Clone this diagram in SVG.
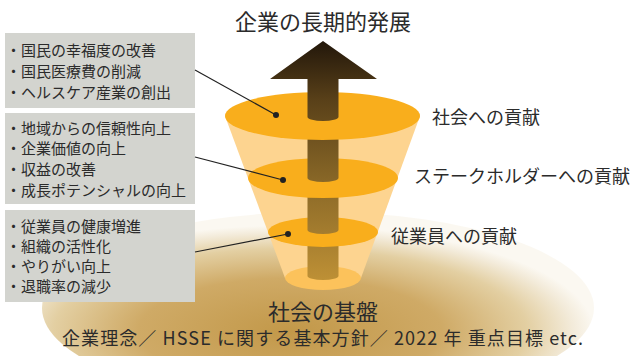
<svg xmlns="http://www.w3.org/2000/svg" width="631" height="356" viewBox="0 0 631 356">
  <style>
    text { font-family: "Noto Sans CJK JP", "Noto Sans", sans-serif; fill: #2b2b2b; }
    .item { font-size: 15px; }
    .label { font-size: 18px; }
    .head { font-size: 22px; }
    .box { fill: #d3d4cf; }
    .disc { fill: #f9ae1c; }
    .shaft { fill: url(#shaftGrad); }
    .leader { stroke: #222; stroke-width: 1.2; fill: none; }
    .dot { fill: #222; }
  </style>
  <defs>
    <radialGradient id="baseGrad" cx="0.45" cy="0.62" r="0.55">
      <stop offset="0" stop-color="#c29849"/>
      <stop offset="0.5" stop-color="#cfaa66"/>
      <stop offset="0.78" stop-color="#e3cfa2"/>
      <stop offset="0.93" stop-color="#f3ebda"/>
      <stop offset="1" stop-color="#fbf8f1"/>
    </radialGradient>
    <linearGradient id="shaftGrad" gradientUnits="userSpaceOnUse" x1="0" y1="40" x2="0" y2="285">
      <stop offset="0" stop-color="#21160a"/>
      <stop offset="0.25" stop-color="#5a4119"/>
      <stop offset="0.6" stop-color="#8c6a28"/>
      <stop offset="1" stop-color="#c09236"/>
    </linearGradient>
  </defs>

  <!-- foundation glow -->
  <g id="foundation">
    <ellipse cx="318" cy="308" rx="276" ry="96" fill="url(#baseGrad)"/>
  </g>

  <!-- funnel with discs and rising arrow -->
  <g id="funnel">
    <polygon points="225,116 420,116 361,278 285,278" fill="#fdd490"/>
    <ellipse cx="323" cy="278" rx="38" ry="12" fill="#fcc25b"/>
    <path class="shaft" d="M307.5,232 V276 A15.5,4 0 0 0 338.5,276 V232 Z"/>
    <ellipse class="disc" cx="323" cy="232" rx="55" ry="15"/>
    <path class="shaft" d="M307.5,178 V230 A15.5,4 0 0 0 338.5,230 V178 Z"/>
    <ellipse class="disc" cx="323" cy="178" rx="75" ry="20"/>
    <path class="shaft" d="M307.5,116 V178 A15.5,4 0 0 0 338.5,178 V116 Z"/>
    <ellipse class="disc" cx="322.5" cy="116" rx="97.5" ry="24"/>
    <path class="shaft" d="M323,41 L377,79 H338.5 V117 A15.5,4 0 0 1 307.5,117 V79 H270 Z"/>
  </g>

  <!-- item boxes -->
  <g id="box-society">
    <rect class="box" x="5" y="33" width="190" height="75"/>
    <text class="item" x="6" y="56">・国民の幸福度の改善</text>
    <text class="item" x="6" y="77">・国民医療費の削減</text>
    <text class="item" x="6" y="97.5">・ヘルスケア産業の創出</text>
  </g>
  <g id="box-stakeholders">
    <rect class="box" x="5" y="113" width="190" height="91"/>
    <text class="item" x="6" y="133.5">・地域からの信頼性向上</text>
    <text class="item" x="6" y="153.5">・企業価値の向上</text>
    <text class="item" x="6" y="174.5">・収益の改善</text>
    <text class="item" x="6" y="195.5">・成長ポテンシャルの向上</text>
  </g>
  <g id="box-employees">
    <rect class="box" x="5" y="210" width="190" height="92"/>
    <text class="item" x="6" y="231.5">・従業員の健康増進</text>
    <text class="item" x="6" y="251.5">・組織の活性化</text>
    <text class="item" x="6" y="271.5">・やりがい向上</text>
    <text class="item" x="6" y="291.5">・退職率の減少</text>
  </g>

  <!-- leader lines -->
  <g id="connectors">
    <line class="leader" x1="195" y1="70" x2="276" y2="115"/>
    <circle class="dot" cx="276" cy="115" r="3"/>
    <line class="leader" x1="195" y1="157" x2="283" y2="180"/>
    <circle class="dot" cx="283" cy="180" r="3"/>
    <line class="leader" x1="195" y1="252" x2="288" y2="234"/>
    <circle class="dot" cx="288" cy="234" r="3"/>
  </g>

  <!-- labels -->
  <g id="labels">
    <text class="head" x="323" y="30" text-anchor="middle">企業の長期的発展</text>
    <text class="label" x="432" y="124">社会への貢献</text>
    <text class="label" x="414" y="183">ステークホルダーへの貢献</text>
    <text class="label" x="391" y="243">従業員への貢献</text>
    <text class="head" x="323" y="320" text-anchor="middle">社会の基盤</text>
    <text class="label" x="62" y="345" textLength="521" lengthAdjust="spacing">企業理念／ HSSE に関する基本方針／ 2022 年 重点目標 etc.</text>
  </g>
</svg>
